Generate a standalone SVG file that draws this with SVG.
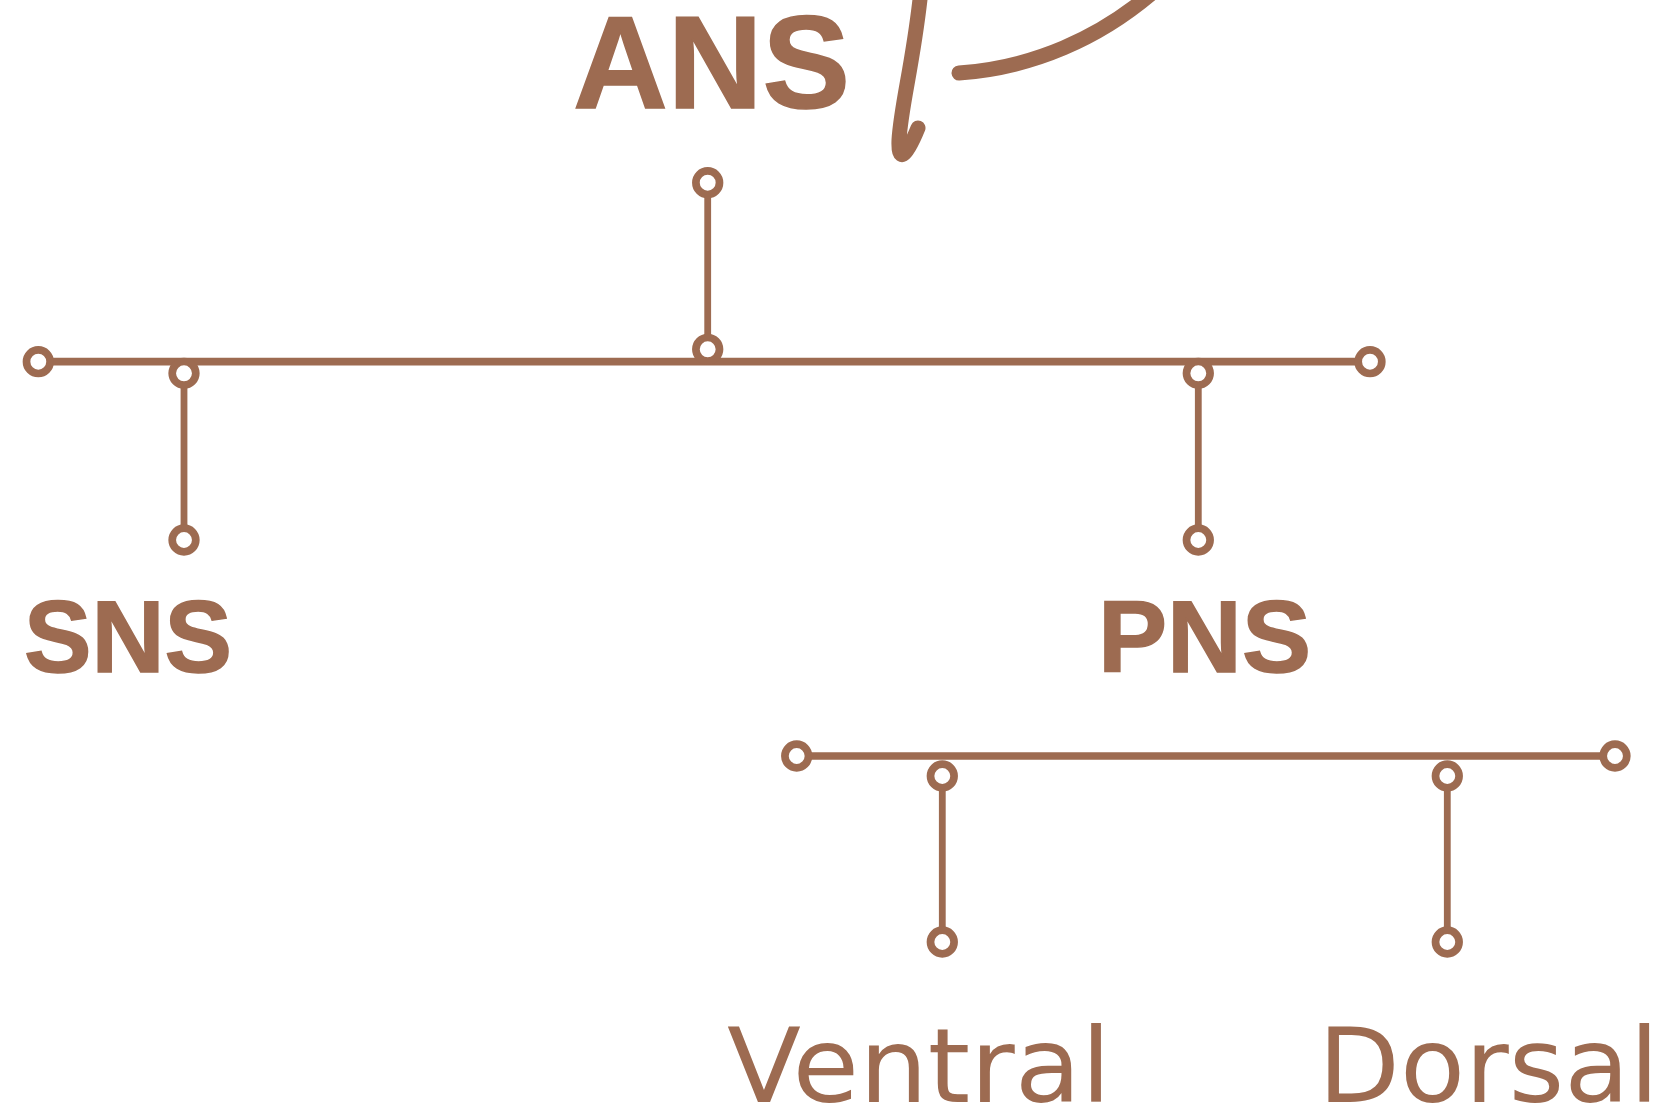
<svg xmlns="http://www.w3.org/2000/svg" width="1664" height="1111" viewBox="0 0 1664 1111">
  <style>
    .bold { font-family: "Liberation Sans", Arial, sans-serif; font-weight: 700; fill: #9d6b51; stroke: #9d6b51; stroke-width: 1.5; }
    .reg { font-family: "DejaVu Sans", "Liberation Sans", sans-serif; font-weight: 400; fill: #9d6b51; }
    .ln { stroke: #9d6b51; stroke-width: 7.7; fill: none; }
    .st { stroke: #9d6b51; stroke-width: 6.8; fill: none; }
    .dot { stroke: #9d6b51; stroke-width: 7.7; fill: #ffffff; }
    .arr { stroke: #9d6b51; stroke-width: 15; fill: none; stroke-linecap: round; stroke-linejoin: round; }
  </style>
  <rect width="1664" height="1111" fill="#ffffff"/>

  <g id="connectors">
    <line class="ln" x1="38.3" y1="361.7" x2="1370" y2="361.7"/>
    <line class="st" x1="707.7" y1="182.7" x2="707.7" y2="349.3"/>
    <line class="st" x1="184" y1="373.3" x2="184" y2="540"/>
    <line class="st" x1="1198.3" y1="373.3" x2="1198.3" y2="540"/>
    <line class="ln" x1="796.7" y1="756" x2="1615" y2="756"/>
    <line class="st" x1="942.3" y1="776" x2="942.3" y2="942"/>
    <line class="st" x1="1447.3" y1="776" x2="1447.3" y2="942"/>

    <circle class="dot" cx="38.3" cy="361.7" r="11.8"/>
    <circle class="dot" cx="1370" cy="361.7" r="11.8"/>
    <circle class="dot" cx="707.7" cy="182.7" r="11.8"/>
    <circle class="dot" cx="707.7" cy="349.3" r="11.8"/>
    <circle class="dot" cx="184" cy="373.3" r="11.8"/>
    <circle class="dot" cx="184" cy="540" r="11.8"/>
    <circle class="dot" cx="1198.3" cy="373.3" r="11.8"/>
    <circle class="dot" cx="1198.3" cy="540" r="11.8"/>
    <circle class="dot" cx="796.7" cy="756" r="11.8"/>
    <circle class="dot" cx="1615" cy="756" r="11.8"/>
    <circle class="dot" cx="942.3" cy="776" r="11.8"/>
    <circle class="dot" cx="942.3" cy="942" r="11.8"/>
    <circle class="dot" cx="1447.3" cy="776" r="11.8"/>
    <circle class="dot" cx="1447.3" cy="942" r="11.8"/>

    <path class="arr" d="M959,73 C1030,68 1100,40 1160,-14"/>
    <path class="arr" d="M921,-10 C914,60 901,105 899,140 C898,162 905,160 918,128"/>
  </g>

  <g id="node-ans">
    <text class="bold" x="573" y="108" font-size="132" textLength="277" lengthAdjust="spacingAndGlyphs">ANS</text>
  </g>
  <g id="node-sns">
    <text class="bold" x="24" y="672" font-size="102" textLength="208" lengthAdjust="spacingAndGlyphs">SNS</text>
  </g>
  <g id="node-pns">
    <text class="bold" x="1098" y="672" font-size="102" textLength="213" lengthAdjust="spacingAndGlyphs">PNS</text>
  </g>
  <g id="node-ventral">
    <text class="reg" x="727" y="1102" font-size="104" textLength="384" lengthAdjust="spacingAndGlyphs">Ventral</text>
  </g>
  <g id="node-dorsal">
    <text class="reg" x="1318" y="1102" font-size="104" textLength="341" lengthAdjust="spacingAndGlyphs">Dorsal</text>
  </g>
</svg>
